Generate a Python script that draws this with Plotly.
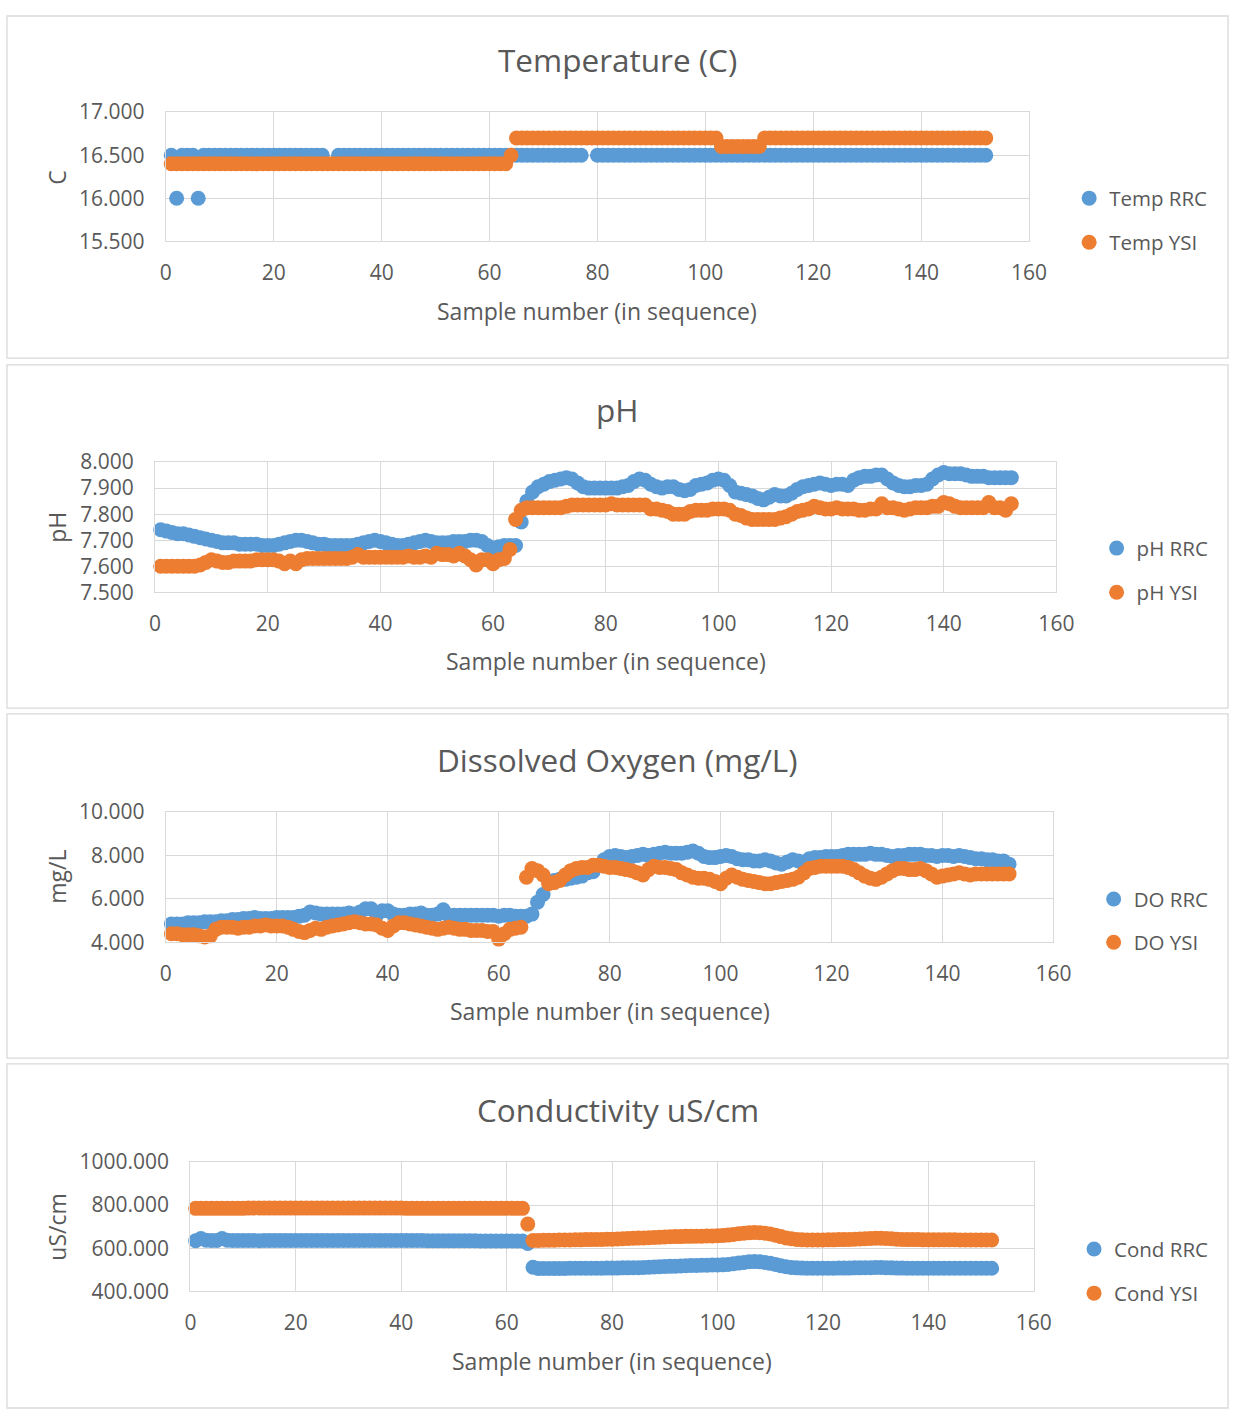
import plotly.graph_objects as go

# ---------------------------------------------------------------- data
SAMPLE = list(range(1, 153))

TEMP_RRC = [
    16.5, 16.0, 16.5, 16.5, 16.5, 16.0, 16.5, 16.5, 16.5, 16.5,
    16.5, 16.5, 16.5, 16.5, 16.5, 16.5, 16.5, 16.5, 16.5, 16.5,
    16.5, 16.5, 16.5, 16.5, 16.5, 16.5, 16.5, 16.5, 16.5, None,
    None, 16.5, 16.5, 16.5, 16.5, 16.5, 16.5, 16.5, 16.5, 16.5,
    16.5, 16.5, 16.5, 16.5, 16.5, 16.5, 16.5, 16.5, 16.5, 16.5,
    16.5, 16.5, 16.5, 16.5, 16.5, 16.5, 16.5, 16.5, 16.5, 16.5,
    16.5, 16.5, 16.5, 16.5, 16.5, 16.5, 16.5, 16.5, 16.5, 16.5,
    16.5, 16.5, 16.5, 16.5, 16.5, 16.5, 16.5, None, None, 16.5,
    16.5, 16.5, 16.5, 16.5, 16.5, 16.5, 16.5, 16.5, 16.5, 16.5,
    16.5, 16.5, 16.5, 16.5, 16.5, 16.5, 16.5, 16.5, 16.5, 16.5,
    16.5, 16.5, 16.5, 16.5, 16.5, 16.5, 16.5, 16.5, 16.5, 16.5,
    16.5, 16.5, 16.5, 16.5, 16.5, 16.5, 16.5, 16.5, 16.5, 16.5,
    16.5, 16.5, 16.5, 16.5, 16.5, 16.5, 16.5, 16.5, 16.5, 16.5,
    16.5, 16.5, 16.5, 16.5, 16.5, 16.5, 16.5, 16.5, 16.5, 16.5,
    16.5, 16.5, 16.5, 16.5, 16.5, 16.5, 16.5, 16.5, 16.5, 16.5,
    16.5, 16.5,
]

TEMP_YSI = [
    16.4, 16.4, 16.4, 16.4, 16.4, 16.4, 16.4, 16.4, 16.4, 16.4,
    16.4, 16.4, 16.4, 16.4, 16.4, 16.4, 16.4, 16.4, 16.4, 16.4,
    16.4, 16.4, 16.4, 16.4, 16.4, 16.4, 16.4, 16.4, 16.4, 16.4,
    16.4, 16.4, 16.4, 16.4, 16.4, 16.4, 16.4, 16.4, 16.4, 16.4,
    16.4, 16.4, 16.4, 16.4, 16.4, 16.4, 16.4, 16.4, 16.4, 16.4,
    16.4, 16.4, 16.4, 16.4, 16.4, 16.4, 16.4, 16.4, 16.4, 16.4,
    16.4, 16.4, 16.4, 16.5, 16.7, 16.7, 16.7, 16.7, 16.7, 16.7,
    16.7, 16.7, 16.7, 16.7, 16.7, 16.7, 16.7, 16.7, 16.7, 16.7,
    16.7, 16.7, 16.7, 16.7, 16.7, 16.7, 16.7, 16.7, 16.7, 16.7,
    16.7, 16.7, 16.7, 16.7, 16.7, 16.7, 16.7, 16.7, 16.7, 16.7,
    16.7, 16.7, 16.6, 16.6, 16.6, 16.6, 16.6, 16.6, 16.6, 16.6,
    16.7, 16.7, 16.7, 16.7, 16.7, 16.7, 16.7, 16.7, 16.7, 16.7,
    16.7, 16.7, 16.7, 16.7, 16.7, 16.7, 16.7, 16.7, 16.7, 16.7,
    16.7, 16.7, 16.7, 16.7, 16.7, 16.7, 16.7, 16.7, 16.7, 16.7,
    16.7, 16.7, 16.7, 16.7, 16.7, 16.7, 16.7, 16.7, 16.7, 16.7,
    16.7, 16.7,
]

PH_RRC = [
    7.740, 7.735, 7.730, 7.725, 7.725, 7.720, 7.715, 7.710, 7.705, 7.700,
    7.695, 7.690, 7.690, 7.690, 7.685, 7.685, 7.685, 7.685, 7.680, 7.680,
    7.680, 7.685, 7.690, 7.695, 7.700, 7.700, 7.695, 7.690, 7.685, 7.685,
    7.680, 7.680, 7.680, 7.680, 7.680, 7.685, 7.690, 7.695, 7.700, 7.695,
    7.690, 7.685, 7.680, 7.680, 7.685, 7.690, 7.695, 7.700, 7.695, 7.690,
    7.690, 7.690, 7.695, 7.695, 7.695, 7.700, 7.700, 7.695, 7.680, 7.670,
    7.675, 7.680, 7.680, 7.680, 7.770, 7.850, 7.885, 7.905, 7.915, 7.925,
    7.930, 7.935, 7.940, 7.935, 7.920, 7.905, 7.900, 7.900, 7.900, 7.900,
    7.900, 7.900, 7.905, 7.910, 7.925, 7.935, 7.930, 7.915, 7.905, 7.900,
    7.905, 7.905, 7.895, 7.890, 7.895, 7.910, 7.915, 7.920, 7.930, 7.935,
    7.930, 7.910, 7.885, 7.880, 7.875, 7.870, 7.860, 7.855, 7.865, 7.875,
    7.870, 7.870, 7.880, 7.895, 7.905, 7.910, 7.915, 7.920, 7.915, 7.910,
    7.915, 7.915, 7.910, 7.930, 7.940, 7.945, 7.945, 7.950, 7.950, 7.935,
    7.920, 7.910, 7.905, 7.905, 7.910, 7.910, 7.915, 7.935, 7.950, 7.960,
    7.955, 7.955, 7.955, 7.950, 7.945, 7.945, 7.945, 7.940, 7.940, 7.940,
    7.940, 7.940,
]

PH_YSI = [
    7.600, 7.600, 7.600, 7.600, 7.600, 7.600, 7.600, 7.605, 7.615, 7.625,
    7.620, 7.615, 7.615, 7.620, 7.620, 7.620, 7.620, 7.625, 7.625, 7.625,
    7.625, 7.620, 7.610, 7.620, 7.610, 7.625, 7.630, 7.630, 7.630, 7.630,
    7.630, 7.630, 7.630, 7.630, 7.635, 7.645, 7.635, 7.635, 7.635, 7.635,
    7.635, 7.635, 7.635, 7.635, 7.640, 7.635, 7.635, 7.640, 7.635, 7.650,
    7.645, 7.645, 7.640, 7.650, 7.640, 7.625, 7.605, 7.625, 7.625, 7.610,
    7.625, 7.630, 7.665, 7.780, 7.815, 7.825, 7.825, 7.825, 7.825, 7.825,
    7.825, 7.825, 7.830, 7.835, 7.835, 7.835, 7.835, 7.835, 7.835, 7.835,
    7.840, 7.835, 7.835, 7.835, 7.835, 7.835, 7.835, 7.820, 7.820, 7.815,
    7.810, 7.800, 7.800, 7.800, 7.810, 7.815, 7.815, 7.815, 7.820, 7.820,
    7.820, 7.815, 7.800, 7.795, 7.785, 7.780, 7.780, 7.780, 7.780, 7.780,
    7.785, 7.790, 7.800, 7.810, 7.815, 7.820, 7.830, 7.825, 7.820, 7.820,
    7.825, 7.820, 7.820, 7.820, 7.815, 7.815, 7.820, 7.820, 7.840, 7.825,
    7.825, 7.820, 7.815, 7.820, 7.825, 7.825, 7.825, 7.830, 7.830, 7.845,
    7.840, 7.830, 7.825, 7.825, 7.825, 7.825, 7.825, 7.845, 7.825, 7.825,
    7.815, 7.840,
]

DO_RRC = [
    4.85, 4.85, 4.85, 4.90, 4.90, 4.90, 4.95, 4.95, 4.95, 5.00,
    5.00, 5.05, 5.05, 5.10, 5.10, 5.15, 5.10, 5.10, 5.10, 5.15,
    5.15, 5.15, 5.15, 5.20, 5.25, 5.40, 5.35, 5.30, 5.30, 5.30,
    5.30, 5.30, 5.35, 5.30, 5.40, 5.55, 5.55, 5.25, 5.45, 5.45,
    5.30, 5.25, 5.25, 5.30, 5.30, 5.35, 5.25, 5.25, 5.30, 5.50,
    5.25, 5.25, 5.25, 5.25, 5.25, 5.25, 5.25, 5.25, 5.25, 5.20,
    5.25, 5.25, 5.20, 5.20, 5.20, 5.30, 5.85, 6.20, 6.80, 6.85,
    6.90, 6.90, 6.95, 7.00, 7.05, 7.20, 7.25, 7.55, 7.80, 7.95,
    8.00, 7.95, 7.90, 7.95, 8.00, 8.05, 8.00, 8.05, 8.10, 8.15,
    8.10, 8.10, 8.10, 8.15, 8.20, 8.10, 7.95, 7.90, 7.90, 7.95,
    8.00, 7.95, 7.85, 7.80, 7.80, 7.75, 7.75, 7.80, 7.75, 7.65,
    7.60, 7.70, 7.80, 7.75, 7.70, 7.85, 7.90, 7.90, 7.95, 7.95,
    7.95, 8.00, 8.05, 8.05, 8.05, 8.05, 8.10, 8.05, 8.05, 8.00,
    7.95, 8.00, 8.00, 8.05, 8.05, 8.05, 8.00, 8.00, 7.95, 8.00,
    8.00, 7.95, 8.00, 7.95, 7.90, 7.85, 7.85, 7.80, 7.80, 7.75,
    7.75, 7.60,
]

DO_YSI = [
    4.40, 4.40, 4.35, 4.35, 4.35, 4.30, 4.25, 4.30, 4.60, 4.70,
    4.70, 4.70, 4.65, 4.70, 4.70, 4.75, 4.75, 4.80, 4.75, 4.75,
    4.75, 4.70, 4.60, 4.50, 4.45, 4.55, 4.65, 4.60, 4.70, 4.75,
    4.80, 4.85, 4.90, 4.95, 4.90, 4.85, 4.85, 4.80, 4.65, 4.55,
    4.75, 4.90, 4.90, 4.85, 4.80, 4.75, 4.70, 4.65, 4.60, 4.65,
    4.70, 4.65, 4.60, 4.60, 4.55, 4.55, 4.55, 4.50, 4.50, 4.15,
    4.40, 4.60, 4.65, 4.70, 7.00, 7.40, 7.30, 7.10, 6.70, 6.75,
    6.85, 7.10, 7.30, 7.40, 7.45, 7.45, 7.55, 7.55, 7.50, 7.45,
    7.45, 7.40, 7.35, 7.30, 7.20, 7.10, 7.35, 7.50, 7.45, 7.45,
    7.40, 7.35, 7.20, 7.10, 7.00, 6.95, 6.95, 6.90, 6.80, 6.70,
    6.95, 7.10, 7.00, 6.90, 6.85, 6.80, 6.75, 6.70, 6.70, 6.75,
    6.80, 6.85, 6.90, 7.00, 7.20, 7.40, 7.45, 7.50, 7.50, 7.50,
    7.50, 7.50, 7.45, 7.35, 7.20, 7.05, 6.95, 6.90, 7.00, 7.15,
    7.30, 7.40, 7.40, 7.35, 7.35, 7.40, 7.30, 7.15, 7.00, 7.05,
    7.10, 7.15, 7.20, 7.15, 7.10, 7.15, 7.15, 7.15, 7.15, 7.15,
    7.15, 7.15,
]

COND_RRC = [
    635, 645, 637, 636, 636, 645, 637, 636, 636, 636,
    636, 636, 635, 636, 636, 636, 636, 636, 636, 636,
    636, 636, 636, 636, 636, 636, 636, 636, 636, 636,
    636, 636, 636, 636, 636, 636, 636, 636, 636, 636,
    636, 636, 636, 636, 635, 635, 635, 635, 635, 635,
    635, 635, 635, 635, 634, 634, 634, 634, 634, 634,
    634, 634, 633, 622, 512, 506, 506, 506, 506, 506,
    506, 507, 507, 507, 507, 507, 507, 507, 508, 508,
    508, 509, 509, 510, 510, 511, 512, 513, 514, 515,
    516, 517, 518, 519, 520, 520, 521, 521, 522, 522,
    523, 525, 528, 531, 534, 537, 538, 537, 534, 530,
    525, 519, 514, 511, 509, 508, 507, 507, 507, 507,
    507, 507, 508, 508, 508, 509, 509, 510, 510, 511,
    511, 510, 509, 508, 508, 507, 507, 507, 507, 507,
    507, 507, 507, 507, 507, 507, 507, 507, 507, 507,
    507, 507,
]

COND_YSI = [
    785, 785, 785, 785, 785, 785, 785, 785, 785, 785,
    786, 786, 786, 786, 786, 786, 786, 786, 786, 786,
    786, 786, 786, 786, 786, 786, 786, 786, 786, 786,
    786, 786, 786, 786, 786, 786, 786, 786, 786, 786,
    785, 785, 785, 785, 785, 785, 785, 785, 785, 785,
    785, 785, 785, 785, 785, 785, 785, 785, 785, 785,
    785, 785, 785, 712, 636, 636, 637, 637, 637, 638,
    638, 638, 639, 639, 640, 640, 641, 641, 642, 642,
    643, 644, 645, 646, 647, 648, 649, 650, 651, 652,
    653, 654, 654, 655, 655, 656, 656, 657, 657, 658,
    659, 661, 664, 667, 670, 672, 673, 672, 670, 666,
    660, 654, 648, 644, 641, 639, 638, 638, 638, 638,
    639, 639, 640, 640, 641, 642, 643, 644, 645, 646,
    646, 645, 644, 642, 641, 640, 640, 640, 639, 639,
    639, 639, 639, 639, 639, 638, 638, 638, 638, 638,
    638, 638,
]

X_TICKS = [0, 20, 40, 60, 80, 100, 120, 140, 160]

# ---------------------------------------------------------------- styling
W, H = 1247, 1422
BLUE = "#5B9BD5"
ORANGE = "#ED7D31"
TEXT = "#595959"
GRID = "#D9D9D9"
FONT = "Open Sans"


def fx(px):
    return px / W


def fy(py):
    return 1 - py / H


# plot box (left, right, top, bottom), frame (top, bottom), title/x-title rows,
# y-title position, legend marker column and rows
PANELS = [
    dict(title="Temperature (C)", ytitle="C",
         names=("Temp RRC", "Temp YSI"), data=(TEMP_RRC, TEMP_YSI),
         yrange=(15.5, 17.0), dtick=0.5, fmt=".3f",
         box=(163, 1043, 99, 231), frame=(1, 350), title_y=45, xtitle_y=302,
         ytitle_xy=(52, 165), leg_x=1104, leg_y=(187, 232)),
    dict(title="pH", ytitle="pH",
         names=("pH RRC", "pH YSI"), data=(PH_RRC, PH_YSI),
         yrange=(7.5, 8.0), dtick=0.1, fmt=".3f",
         box=(152, 1071, 456, 589), frame=(357, 707), title_y=402, xtitle_y=659,
         ytitle_xy=(52, 522), leg_x=1132, leg_y=(544, 589)),
    dict(title="Dissolved Oxygen (mg/L)", ytitle="mg/L",
         names=("DO RRC", "DO YSI"), data=(DO_RRC, DO_YSI),
         yrange=(4.0, 10.0), dtick=2.0, fmt=".3f",
         box=(163, 1068, 813, 946), frame=(713, 1064), title_y=759, xtitle_y=1016,
         ytitle_xy=(52, 879), leg_x=1129, leg_y=(902, 946)),
    dict(title="Conductivity uS/cm", ytitle="uS/cm",
         names=("Cond RRC", "Cond YSI"), data=(COND_RRC, COND_YSI),
         yrange=(400, 1000), dtick=200, fmt=".3f",
         box=(188, 1048, 1170, 1302), frame=(1070, 1421), title_y=1116, xtitle_y=1373,
         ytitle_xy=(52, 1236), leg_x=1109, leg_y=(1259, 1304)),
]

fig = go.Figure()
layout = dict(
    width=W, height=H, margin=dict(l=0, r=0, t=0, b=0, pad=0),
    paper_bgcolor="white", plot_bgcolor="white", showlegend=True,
    font=dict(family=FONT, color=TEXT),
    shapes=[], annotations=[],
)

legend_count = 0
for i, p in enumerate(PANELS):
    n = "" if i == 0 else str(i + 1)
    left, right, top, bottom = p["box"]
    layout["xaxis" + n] = dict(
        domain=[fx(left), fx(right)], anchor="y" + n,
        range=[0, 160], tickvals=X_TICKS, showgrid=True, gridcolor=GRID, gridwidth=1.3,
        showline=True, linecolor=GRID, linewidth=1.3, mirror=True, zeroline=False,
        ticks="", ticklabelstandoff=12,
        tickfont=dict(size=21, color=TEXT, family=FONT),
    )
    layout["yaxis" + n] = dict(
        domain=[fy(bottom), fy(top)], anchor="x" + n,
        range=list(p["yrange"]), dtick=p["dtick"], tick0=p["yrange"][0],
        tickformat=p["fmt"], showgrid=True, gridcolor=GRID, gridwidth=1.3,
        showline=True, linecolor=GRID, linewidth=1.3, mirror=True, zeroline=False,
        ticks="", ticklabelstandoff=16,
        tickfont=dict(size=21, color=TEXT, family=FONT),
    )

    for name, vals, color, ly in zip(p["names"], p["data"], (BLUE, ORANGE), p["leg_y"]):
        legend_count += 1
        lname = "legend" if legend_count == 1 else "legend%d" % legend_count
        fig.add_trace(go.Scatter(
            x=SAMPLE, y=vals, name=name, mode="markers", showlegend=True,
            marker=dict(color=color, size=15, line=dict(width=0)),
            xaxis="x" + n, yaxis="y" + n, legend=lname, cliponaxis=False,
        ))
        layout[lname] = dict(
            x=fx(p["leg_x"] - 20), y=fy(ly), xanchor="left", yanchor="middle",
            bgcolor="rgba(0,0,0,0)", borderwidth=0, itemwidth=30,
            font=dict(size=20.5, color=TEXT, family=FONT),
        )

    # chart frame
    f0, f1 = p["frame"]
    layout["shapes"].append(dict(
        type="rect", xref="paper", yref="paper",
        x0=fx(1), x1=fx(1246), y0=fy(f1), y1=fy(f0),
        line=dict(color=GRID, width=1.3), fillcolor="rgba(0,0,0,0)", layer="below",
    ))
    # chart title
    layout["annotations"].append(dict(
        text=p["title"], xref="paper", yref="paper", x=fx(624), y=fy(p["title_y"]),
        xanchor="center", yanchor="middle", showarrow=False,
        font=dict(size=31.5, color=TEXT, family=FONT),
    ))
    # x-axis title
    layout["annotations"].append(dict(
        text="Sample number (in sequence)", xref="paper", yref="paper",
        x=fx((left + right) / 2), y=fy(p["xtitle_y"]),
        xanchor="center", yanchor="middle", showarrow=False,
        font=dict(size=23, color=TEXT, family=FONT),
    ))
    # y-axis title
    tx, ty = p["ytitle_xy"]
    layout["annotations"].append(dict(
        text=p["ytitle"], xref="paper", yref="paper", x=fx(tx), y=fy(ty),
        xanchor="center", yanchor="middle", showarrow=False, textangle=-90,
        font=dict(size=23, color=TEXT, family=FONT),
    ))

fig.update_layout(**layout)

# page without body margin so the figure sits flush in the window
PAGE_STYLE = (
    "document.body.style.margin='0';"
    "document.body.style.padding='0';"
    "document.documentElement.style.overflow='hidden';"
)
fig.write_html("out.html", post_script=PAGE_STYLE)
